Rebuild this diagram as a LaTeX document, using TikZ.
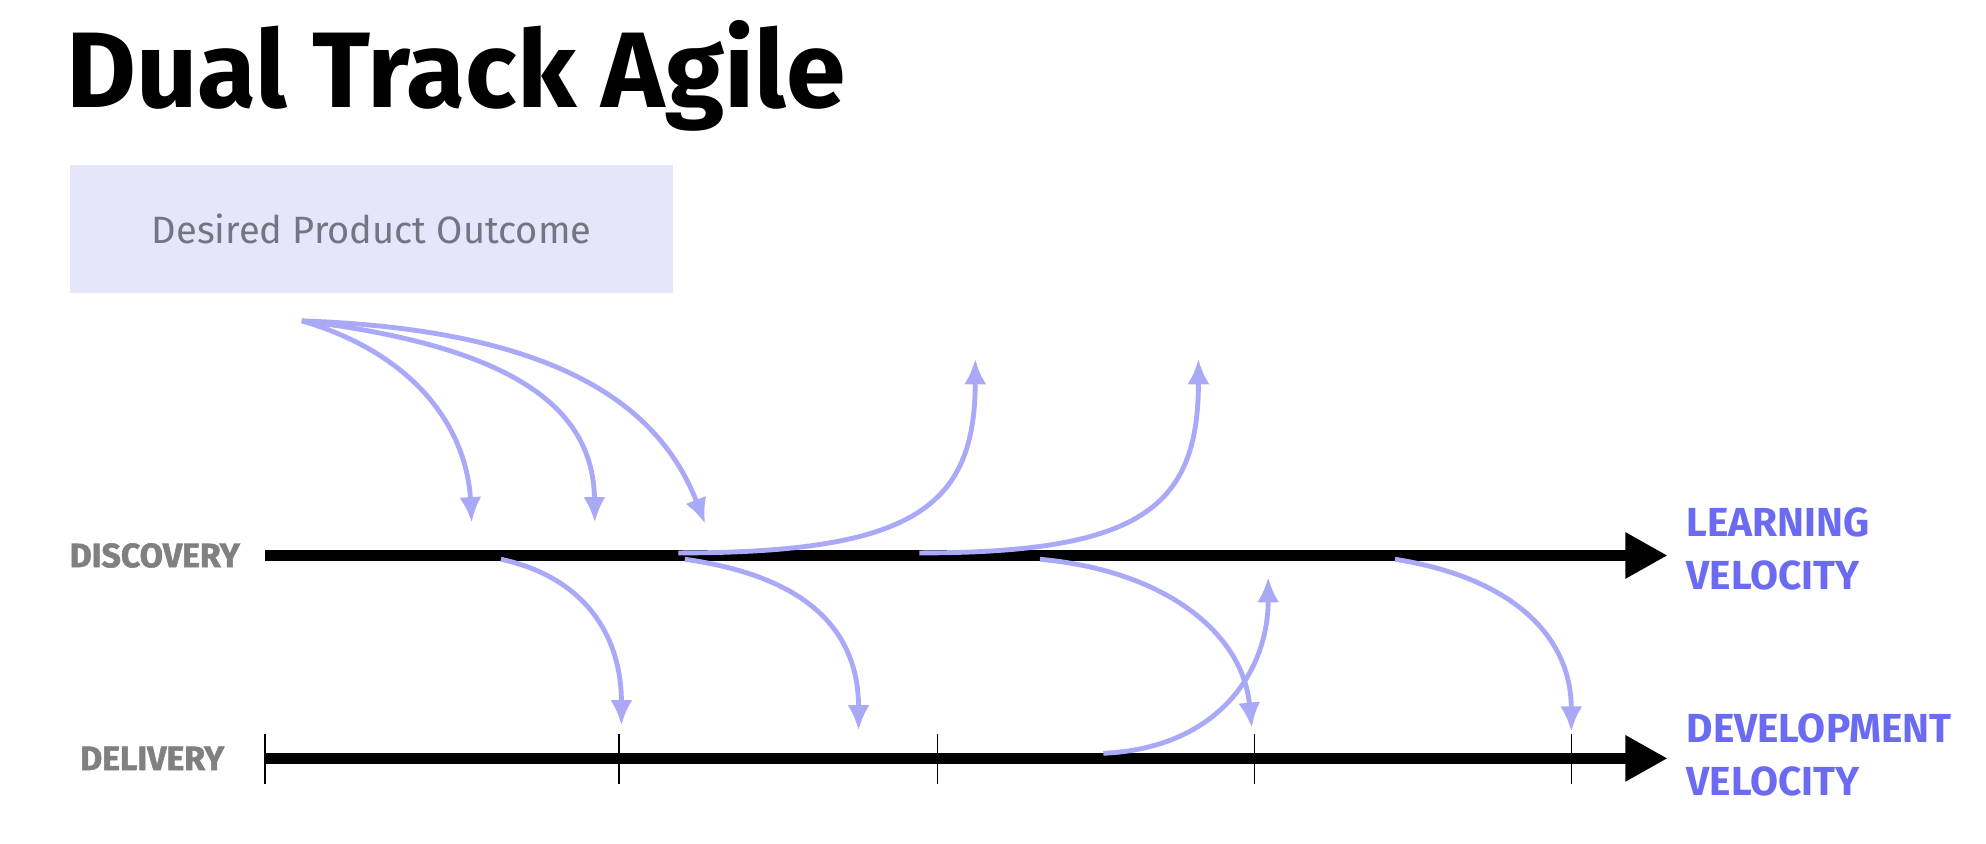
\documentclass[tikz,border=0pt]{standalone}
\usepackage{fontspec}
\setmainfont{Fira Sans}
\usetikzlibrary{arrows.meta}

\definecolor{goalfill}{HTML}{E6E6FB}
\definecolor{goaltext}{HTML}{747482}
\definecolor{trackgray}{HTML}{808080}
\definecolor{flow}{HTML}{A9A9F7}
\definecolor{velo}{HTML}{6B6BF2}

\begin{document}
\begin{tikzpicture}[x=0.6pt, y=-0.6pt,
  flow/.style={draw=flow, line width=2.3pt, -{Latex[length=12pt,width=10.5pt]}},
  track/.style={line width=5.4pt, -{Triangle[length=20pt,width=20.5pt]}},
  tick/.style={line width=0.6pt},
  trackname/.style={text=trackgray, font=\bfseries\addfontfeatures{FakeBold=1.6}\fontsize{16}{16}\selectfont},
  velolabel/.style={text=velo, anchor=west, align=left, font=\bfseries\fontsize{19.2}{25}\selectfont}]

\useasboundingbox (0,0) rectangle (1566,665.5);

\node[anchor=base west, inner sep=0pt, font=\bfseries\fontsize{50.8}{50.8}\selectfont] (title) at (52,85) {Dual Track Agile};

\node[fill=goalfill, minimum width=285.6pt, minimum height=60.6pt, text=goaltext, font=\fontsize{18}{18}\selectfont] (goal) at (293,180.5) {Desired Product Outcome};

% the two tracks
\node[trackname] (disc) at (122,438) {DISCOVERY};
\node[trackname] (deli) at (120,598) {DELIVERY};

\coordinate (disc0) at (209,438);
\coordinate (disc1) at (1315,438);
\coordinate (deli0) at (209,598);
\coordinate (deli1) at (1315,598);

\draw[track] (disc0) -- (disc1);
\draw[track] (deli0) -- (deli1);

\foreach \tx in {209,488,739,989,1239}
  \draw[tick] (\tx,579) -- (\tx,618);

\node[velolabel] (learn) at (1324,433) {LEARNING\\VELOCITY};
\node[velolabel] (dev) at (1324,595.5) {DEVELOPMENT\\VELOCITY};

% end points of the flows
\coordinate (src) at (238,253);
\coordinate (d1) at (372,412);
\coordinate (d2) at (469,412);
\coordinate (d3) at (556,413);
\coordinate (u1s) at (535,436);
\coordinate (u1) at (769,283);
\coordinate (u2s) at (725,436);
\coordinate (u2) at (945,283);
\coordinate (p1s) at (395,441);
\coordinate (p1) at (490,572);
\coordinate (p2s) at (540,441);
\coordinate (p2) at (677,576);
\coordinate (p3s) at (820,441);
\coordinate (p3) at (987,574);
\coordinate (p4s) at (1100,441);
\coordinate (p4) at (1239,577);
\coordinate (q1s) at (870,594);
\coordinate (q1) at (1000,455);

\draw[flow] (src) .. controls (330,280) and (368,340) .. (d1);
\draw[flow] (src) .. controls (420,275) and (468,330) .. (d2);
\draw[flow] (src) .. controls (440,260) and (520,320) .. (d3);

\draw[flow] (u1s) .. controls (720,436) and (769,400) .. (u1);
\draw[flow] (u2s) .. controls (900,436) and (945,400) .. (u2);

\draw[flow] (p1s) .. controls (460,455) and (490,500) .. (p1);
\draw[flow] (p2s) .. controls (640,455) and (677,500) .. (p2);
\draw[flow] (p3s) .. controls (920,450) and (980,500) .. (p3);
\draw[flow] (p4s) .. controls (1190,455) and (1239,500) .. (p4);

\draw[flow] (q1s) .. controls (960,590) and (1000,530) .. (q1);

\end{tikzpicture}
\end{document}
